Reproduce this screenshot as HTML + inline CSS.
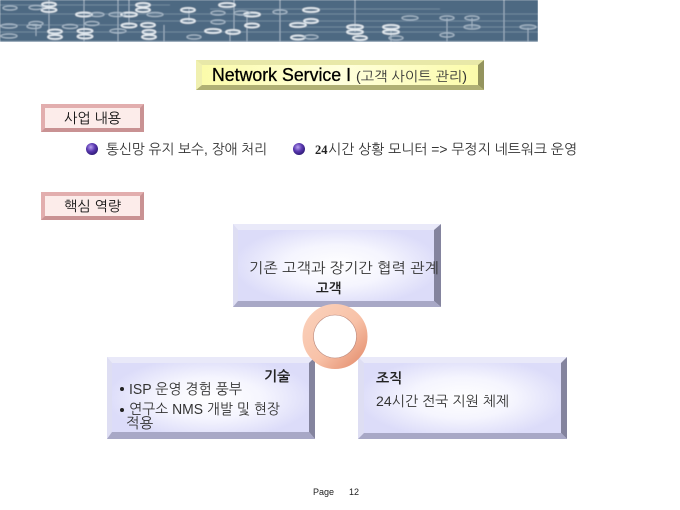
<!DOCTYPE html>
<html><head><meta charset="utf-8">
<style>
html,body{margin:0;padding:0;background:#fff}
body{width:680px;height:510px;position:relative;overflow:hidden}
svg{position:absolute;left:0;top:0}
text{font-family:"Liberation Sans","NanumGothic","Noto Sans CJK KR",sans-serif;fill:#222}
</style></head><body>
<svg width="680" height="510" viewBox="0 0 680 510" xmlns="http://www.w3.org/2000/svg">
<defs>
<radialGradient id="g"><stop offset="0" stop-color="#ffffff"/><stop offset=".5" stop-color="#f5f5fe"/><stop offset="1" stop-color="#dcdcf9"/></radialGradient>
<linearGradient id="y" x1="0" y1="0" x2="1" y2="0"><stop offset="0" stop-color="#fbfba8"/><stop offset=".5" stop-color="#ffffdc"/><stop offset="1" stop-color="#fbfba8"/></linearGradient>
<linearGradient id="r" x1="0" y1="0" x2="1" y2="1"><stop offset="0" stop-color="#fad0ba"/><stop offset=".55" stop-color="#f8c2a8"/><stop offset="1" stop-color="#e59172"/></linearGradient>
<radialGradient id="b" cx=".4" cy=".35" r=".7"><stop offset="0" stop-color="#b8a0f0"/><stop offset=".5" stop-color="#5a38b0"/><stop offset="1" stop-color="#2a1870"/></radialGradient>
<filter id="s" x="0" y="0" width="1" height="1"><feGaussianBlur stdDeviation="0.4"/></filter>
</defs>

<!-- banner -->
<g filter="url(#s)">
<rect x="0" y="0" width="538" height="42" fill="#4e6982"/>
<rect x="0" y="41" width="538" height="1" fill="#8ea2b5"/>
<g stroke="#728aa0" stroke-width="1" fill="none">
<path d="M0 5H170M0 14H538M0 25H130M130 21H538M0 32H538M210 9H440M300 27H538"/>
</g>
<g stroke="#a0b2c2" stroke-width="1" fill="none">
<path d="M49 0V36M84 0V42M118 0V42M129 0V25M164 25V42M189 8V21M234 0V30M247 12V42M280 0V42M355 0V32M391 28V42M447 18V42M472 18V28M504 0V42M528 28V42M36 25V36M230 30V42"/>
</g>
<g fill="none" stroke="#e4ebf1" stroke-width="1.7">
<ellipse cx="49" cy="4.5" rx="7" ry="2"/><ellipse cx="49" cy="10" rx="7.5" ry="2"/><ellipse cx="84" cy="14.5" rx="8" ry="2"/><ellipse cx="129" cy="14.5" rx="8" ry="2"/><ellipse cx="143" cy="5" rx="7" ry="2"/><ellipse cx="143" cy="10" rx="7" ry="2"/><ellipse cx="129" cy="25.5" rx="7.5" ry="2"/><ellipse cx="148" cy="25" rx="7" ry="2"/><ellipse cx="55" cy="31.5" rx="7" ry="2"/><ellipse cx="55" cy="37" rx="7" ry="2"/><ellipse cx="85" cy="31" rx="7.5" ry="2"/><ellipse cx="85" cy="36.5" rx="7.5" ry="2"/><ellipse cx="149" cy="32" rx="6.5" ry="2"/><ellipse cx="149" cy="37" rx="7" ry="2"/><ellipse cx="188" cy="10" rx="7" ry="2"/><ellipse cx="188" cy="21" rx="7" ry="2"/><ellipse cx="213" cy="31" rx="8" ry="2"/><ellipse cx="233" cy="32" rx="7" ry="2"/><ellipse cx="252" cy="14.5" rx="8" ry="2"/><ellipse cx="252" cy="25.5" rx="7" ry="2"/><ellipse cx="227" cy="5" rx="8" ry="2"/><ellipse cx="311" cy="10" rx="8" ry="2"/><ellipse cx="311" cy="21" rx="7" ry="2"/><ellipse cx="355" cy="27" rx="8" ry="2"/><ellipse cx="355" cy="32" rx="8" ry="2"/><ellipse cx="298" cy="25" rx="8" ry="2"/><ellipse cx="298" cy="37.5" rx="7" ry="2"/><ellipse cx="360" cy="38" rx="7" ry="2"/><ellipse cx="391" cy="27" rx="8" ry="2"/><ellipse cx="391" cy="32" rx="8" ry="2"/>
</g>
<g fill="none" stroke="#a9bac9" stroke-width="1.2">
<ellipse cx="10" cy="8" rx="7" ry="2"/><ellipse cx="36" cy="7.5" rx="7" ry="2"/><ellipse cx="9" cy="26" rx="8" ry="2"/><ellipse cx="9" cy="36" rx="8" ry="2"/><ellipse cx="36" cy="23.5" rx="7" ry="2"/><ellipse cx="34" cy="26.5" rx="7" ry="2"/><ellipse cx="70" cy="26.5" rx="7.5" ry="2"/><ellipse cx="92" cy="23.5" rx="7" ry="2"/><ellipse cx="97" cy="14.5" rx="7" ry="2"/><ellipse cx="118" cy="31" rx="8" ry="2"/><ellipse cx="117" cy="14.5" rx="8" ry="2"/><ellipse cx="155" cy="14.5" rx="8" ry="2"/><ellipse cx="194" cy="37" rx="7" ry="2"/><ellipse cx="218" cy="13" rx="7" ry="2"/><ellipse cx="218" cy="22" rx="7" ry="2"/><ellipse cx="242" cy="13" rx="8" ry="2"/><ellipse cx="280" cy="12" rx="7" ry="2"/><ellipse cx="311" cy="37" rx="7" ry="2"/><ellipse cx="410" cy="18" rx="8" ry="2"/><ellipse cx="447" cy="18" rx="7" ry="2"/><ellipse cx="472" cy="18" rx="7" ry="2"/><ellipse cx="472" cy="27" rx="8" ry="2"/><ellipse cx="447" cy="35" rx="7" ry="2"/><ellipse cx="528" cy="27" rx="8" ry="2"/><ellipse cx="396" cy="38" rx="7" ry="2"/>
</g>
</g>

<!-- title -->
<rect x="196" y="60" width="288" height="30" fill="url(#y)"/>
<polygon points="196,60 484,60 478,65 202,65" fill="#e8e8a8"/>
<polygon points="196,60 202,65 202,85 196,90" fill="#f0f0b0"/>
<polygon points="484,60 484,90 478,85 478,65" fill="#94945e"/>
<polygon points="196,90 202,85 478,85 484,90" fill="#b0b074"/>
<text x="212" y="81" font-size="18" style="fill:#000;stroke:#000;stroke-width:.3" textLength="139" lengthAdjust="spacingAndGlyphs">Network Service I</text>
<text x="356" y="81" font-size="13.5" style="fill:#333" textLength="111" lengthAdjust="spacingAndGlyphs">(고객 사이트 관리)</text>

<!-- section labels -->
<g>
<rect x="41" y="104" width="103" height="28" fill="#e2aeae"/>
<polygon points="144,104 144,132 41,132 45,128 140,128 140,108" fill="#c99293"/>
<rect x="45" y="108" width="95" height="20" fill="#fcecea"/>
<text x="64" y="123" font-size="14" style="fill:#111" textLength="57" lengthAdjust="spacingAndGlyphs">사업 내용</text>
<rect x="41" y="192" width="103" height="28" fill="#e2aeae"/>
<polygon points="144,192 144,220 41,220 45,216 140,216 140,196" fill="#c99293"/>
<rect x="45" y="196" width="95" height="20" fill="#fcecea"/>
<text x="64" y="211" font-size="14" style="fill:#111" textLength="57" lengthAdjust="spacingAndGlyphs">핵심 역량</text>
</g>

<!-- bullets -->
<circle cx="92" cy="149" r="6" fill="url(#b)"/>
<text x="106" y="154" font-size="14" style="fill:#333" textLength="161" lengthAdjust="spacingAndGlyphs">통신망 유지 보수, 장애 처리</text>
<circle cx="299" cy="149" r="6" fill="url(#b)"/>
<text x="315" y="154" font-size="12.5" style="font-family:'Liberation Serif',serif;font-weight:bold;fill:#222">24</text>
<text x="328" y="154" font-size="14" style="fill:#333" textLength="249" lengthAdjust="spacingAndGlyphs">시간 상황 모니터  =&gt; 무정지 네트워크 운영</text>

<!-- top box -->
<rect x="233" y="224" width="208" height="83" fill="url(#g)"/>
<polygon points="233,224 441,224 434,230 238,230" fill="#e9e9f9"/>
<polygon points="233,224 238,230 238,301 233,307" fill="#dedef3"/>
<polygon points="441,224 441,307 434,301 434,230" fill="#84849e"/>
<polygon points="233,307 238,301 434,301 441,307" fill="#a8a8c6"/>
<text x="249" y="273" font-size="14.5" style="fill:#333" textLength="190" lengthAdjust="spacingAndGlyphs">기존 고객과 장기간 협력 관계</text>
<text x="316" y="293" font-size="13.5" font-weight="bold" style="fill:#222">고객</text>

<!-- left box -->
<rect x="107" y="357" width="208" height="82" fill="url(#g)"/>
<polygon points="107,357 315,357 309,363 112,363" fill="#e9e9f9"/>
<polygon points="107,357 112,363 112,432 107,439" fill="#dedef3"/>
<polygon points="315,357 315,439 309,432 309,363" fill="#84849e"/>
<polygon points="107,439 112,432 309,432 315,439" fill="#a8a8c6"/>
<text x="264" y="381" font-size="14" font-weight="bold" style="fill:#222">기술</text>
<circle cx="122" cy="389" r="2" fill="#222"/>
<text x="129" y="394" font-size="14.5" style="fill:#333" textLength="113" lengthAdjust="spacingAndGlyphs">ISP 운영 경험 풍부</text>
<circle cx="122" cy="410" r="2" fill="#222"/>
<text x="129" y="414" font-size="14.5" style="fill:#333" textLength="151" lengthAdjust="spacingAndGlyphs">연구소 NMS 개발 및 현장</text>
<text x="126" y="428" font-size="14.5" style="fill:#333">적용</text>

<!-- right box -->
<rect x="358" y="357" width="209" height="82" fill="url(#g)"/>
<polygon points="358,357 567,357 561,363 364,363" fill="#e9e9f9"/>
<polygon points="358,357 364,363 364,433 358,439" fill="#dedef3"/>
<polygon points="567,357 567,439 561,433 561,363" fill="#84849e"/>
<polygon points="358,439 364,433 561,433 567,439" fill="#a8a8c6"/>
<text x="376" y="383" font-size="14" font-weight="bold" style="fill:#222">조직</text>
<text x="376" y="406" font-size="14" style="fill:#333" textLength="133" lengthAdjust="spacingAndGlyphs">24시간 전국 지원 체제</text>

<!-- ring -->
<circle cx="335" cy="336.5" r="27" fill="none" stroke="url(#r)" stroke-width="11"/>
<circle cx="335" cy="336.5" r="21.5" fill="#fff" stroke="#b8867a" stroke-width=".6"/>

<!-- footer -->
<text x="313" y="495" font-size="9" style="fill:#222">Page</text>
<text x="349" y="495" font-size="9" style="fill:#222">12</text>
</svg>
</body></html>
